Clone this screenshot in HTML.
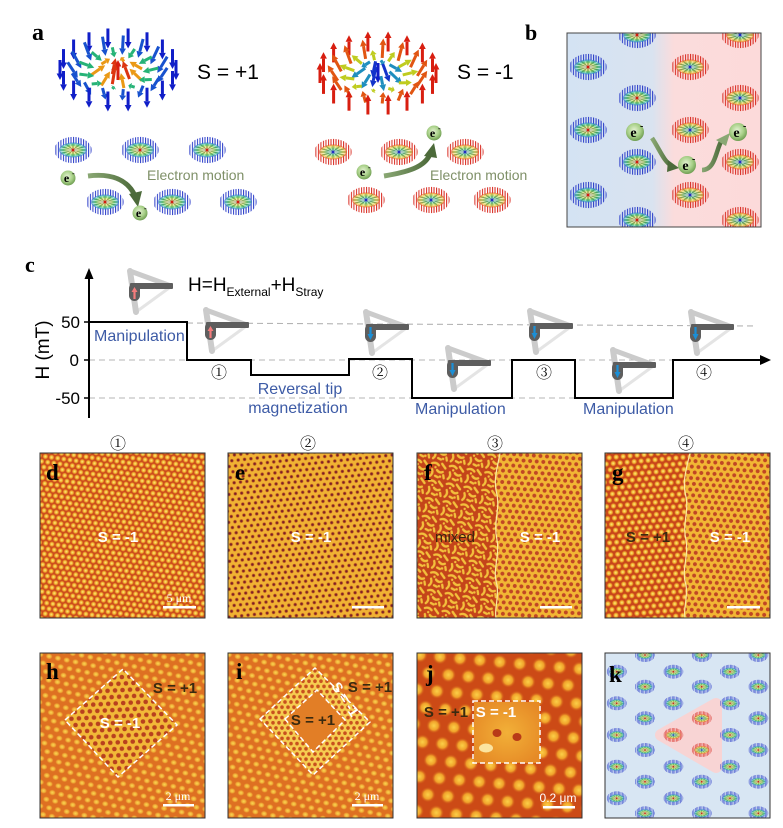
<!DOCTYPE html>
<html><head><meta charset="utf-8">
<style>
html,body{margin:0;padding:0;background:#fff;}
body{width:783px;height:828px;position:relative;overflow:hidden;}
svg{position:absolute;left:0;top:0;}
.sans{font-family:"Liberation Sans","DejaVu Sans",sans-serif;}
.serif{font-family:"Liberation Serif","DejaVu Serif",serif;}
.circ{font-family:"Noto Serif CJK SC","Noto Sans CJK SC","DejaVu Sans",serif;}
.fb{position:absolute;border-radius:50%;}
</style></head>
<body>
<noscript>
<div class="fb" style="left:55px;top:28px;width:126px;height:86px;background:radial-gradient(ellipse at center,#e03020 0%,#f0b020 20%,#50c040 45%,#30b0c0 70%,#2030d0 100%);opacity:.8"></div>
<div class="fb" style="left:317px;top:30px;width:124px;height:86px;background:radial-gradient(ellipse at center,#2040d0 0%,#30b0c0 20%,#50c040 45%,#f0b020 70%,#e02010 100%);opacity:.8"></div>
</noscript>
<svg width="783" height="828" viewBox="0 0 783 828" xmlns="http://www.w3.org/2000/svg">
<defs>
  <radialGradient id="rgP" cx="50%" cy="50%" r="50%">
    <stop offset="0" stop-color="#e0301c"/><stop offset="0.2" stop-color="#f0a020"/>
    <stop offset="0.45" stop-color="#c8d030"/><stop offset="0.65" stop-color="#40c040"/>
    <stop offset="0.85" stop-color="#30b0b0"/><stop offset="1" stop-color="#3070d0"/>
  </radialGradient>
  <radialGradient id="rgM" cx="50%" cy="50%" r="50%">
    <stop offset="0" stop-color="#2040d0"/><stop offset="0.2" stop-color="#30b0c0"/>
    <stop offset="0.45" stop-color="#50c040"/><stop offset="0.7" stop-color="#d8d030"/>
    <stop offset="0.88" stop-color="#f0a020"/><stop offset="1" stop-color="#e04020"/>
  </radialGradient>
  <pattern id="stB" width="2.7" height="6" patternUnits="userSpaceOnUse"><rect width="1.1" height="6" fill="#2a3cc8"/></pattern>
  <pattern id="stR" width="2.7" height="6" patternUnits="userSpaceOnUse"><rect width="1.1" height="6" fill="#d82a20"/></pattern>
  <symbol id="skp" viewBox="-21 -15 42 30">
    <path d="M-20,0 a20,14 0 1,0 40,0 a20,14 0 1,0 -40,0 Z M-14,0 a14,7 0 1,0 28,0 a14,7 0 1,0 -28,0 Z" fill-rule="evenodd" fill="url(#stB)"/>
    <ellipse rx="15" ry="8" fill="url(#rgP)" opacity="0.7"/>
    <path d="M0,0L14,0M0,0L12.1,3.5M0,0L7,6.1M0,0L0,7M0,0L-7,6.1M0,0L-12.1,3.5M0,0L-14,0M0,0L-12.1,-3.5M0,0L-7,-6.1M0,0L0,-7M0,0L7,-6.1M0,0L12.1,-3.5" stroke="#1f6a3a" stroke-width="0.8" opacity="0.55"/>
    <path d="M0,0L13.5,2M0,0L10,5M0,0L3.5,6.8M0,0L-3.5,6.8M0,0L-10,5M0,0L-13.5,2M0,0L-13.5,-2M0,0L-10,-5M0,0L-3.5,-6.8M0,0L3.5,-6.8M0,0L10,-5M0,0L13.5,-2" stroke="#fff" stroke-width="0.7" opacity="0.6"/>
    <circle r="1.6" fill="#d02010"/>
  </symbol>
  <symbol id="skm" viewBox="-21 -15 42 30">
    <path d="M-20,0 a20,14 0 1,0 40,0 a20,14 0 1,0 -40,0 Z M-14,0 a14,7 0 1,0 28,0 a14,7 0 1,0 -28,0 Z" fill-rule="evenodd" fill="url(#stR)"/>
    <ellipse rx="15" ry="8" fill="url(#rgM)" opacity="0.7"/>
    <path d="M0,0L14,0M0,0L12.1,3.5M0,0L7,6.1M0,0L0,7M0,0L-7,6.1M0,0L-12.1,3.5M0,0L-14,0M0,0L-12.1,-3.5M0,0L-7,-6.1M0,0L0,-7M0,0L7,-6.1M0,0L12.1,-3.5" stroke="#1f5a3a" stroke-width="0.8" opacity="0.55"/>
    <path d="M0,0L13.5,2M0,0L10,5M0,0L3.5,6.8M0,0L-3.5,6.8M0,0L-10,5M0,0L-13.5,2M0,0L-13.5,-2M0,0L-10,-5M0,0L-3.5,-6.8M0,0L3.5,-6.8M0,0L10,-5M0,0L13.5,-2" stroke="#fff" stroke-width="0.7" opacity="0.6"/>
    <circle r="1.6" fill="#2030c0"/>
  </symbol>
  <radialGradient id="eg" cx="45%" cy="40%" r="60%">
    <stop offset="0" stop-color="#e4f2d2"/><stop offset="0.6" stop-color="#a8d088"/><stop offset="1" stop-color="#6f9e52"/>
  </radialGradient>
  <linearGradient id="arG" x1="0" y1="0" x2="1" y2="0">
    <stop offset="0" stop-color="#8aa874"/><stop offset="1" stop-color="#4c6a3a"/>
  </linearGradient>
  <symbol id="tipR" viewBox="0 0 46 48">
    <path d="M9,44 L42,20" stroke="#e4e4e4" stroke-width="3"/>
    <path d="M3,3 L44,18" stroke="#cbcbcb" stroke-width="5" stroke-linecap="round"/>
    <path d="M3,3 L9,44" stroke="#cbcbcb" stroke-width="6" stroke-linecap="round"/>
    <rect x="3" y="15" width="43" height="6" rx="1" fill="#5e5e5e"/>
    <rect x="2" y="15" width="11" height="18" rx="5.5" fill="#5e5e5e"/>
    <path d="M7.5,31 V23" stroke="#f47c7c" stroke-width="2.2"/><path d="M4.5,24 L7.5,19 L10.5,24Z" fill="#f47c7c"/>
  </symbol>
  <symbol id="tipB" viewBox="0 0 46 48">
    <path d="M9,44 L42,20" stroke="#e4e4e4" stroke-width="3"/>
    <path d="M3,3 L44,18" stroke="#cbcbcb" stroke-width="5" stroke-linecap="round"/>
    <path d="M3,3 L9,44" stroke="#cbcbcb" stroke-width="6" stroke-linecap="round"/>
    <rect x="3" y="15" width="43" height="6" rx="1" fill="#5e5e5e"/>
    <rect x="2" y="15" width="11" height="18" rx="5.5" fill="#5e5e5e"/>
    <path d="M7.5,18 V26" stroke="#1b8fd6" stroke-width="2.2"/><path d="M4.5,25 L7.5,31 L10.5,25Z" fill="#1b8fd6"/>
  </symbol>
  <linearGradient id="bbg" x1="0" y1="0" x2="1" y2="0">
    <stop offset="0" stop-color="#d4e3f3"/><stop offset="0.44" stop-color="#d9e3f0"/>
    <stop offset="0.55" stop-color="#fbdcdc"/><stop offset="1" stop-color="#fcdada"/>
  </linearGradient>
  <radialGradient id="gy"><stop offset="0" stop-color="#fde888"/><stop offset="0.55" stop-color="#f4bc34"/><stop offset="1" stop-color="#dc6a20"/></radialGradient>
  <radialGradient id="gr"><stop offset="0" stop-color="#5e1a2c"/><stop offset="0.55" stop-color="#982c22"/><stop offset="1" stop-color="#eea42a"/></radialGradient>
  <radialGradient id="gy2"><stop offset="0" stop-color="#fad656"/><stop offset="0.6" stop-color="#f0ae36"/><stop offset="1" stop-color="#de7022"/></radialGradient>
  <radialGradient id="gy3"><stop offset="0" stop-color="#fbd048"/><stop offset="0.55" stop-color="#f0a22a"/><stop offset="1" stop-color="#c84414" stop-opacity="0"/></radialGradient>
  <pattern id="pd" width="6.2" height="10.74" patternUnits="userSpaceOnUse" patternTransform="rotate(8)">
    <rect width="6.2" height="10.74" fill="#cc4c1c"/>
    <circle cx="0" cy="0" r="2.6" fill="url(#gy)"/><circle cx="6.2" cy="0" r="2.6" fill="url(#gy)"/>
    <circle cx="0" cy="10.74" r="2.6" fill="url(#gy)"/><circle cx="6.2" cy="10.74" r="2.6" fill="url(#gy)"/>
    <circle cx="3.1" cy="5.37" r="2.6" fill="url(#gy)"/>
  </pattern>
  <pattern id="pe" width="6.4" height="11.09" patternUnits="userSpaceOnUse" patternTransform="rotate(-6)">
    <rect width="6.4" height="11.09" fill="#f0b234"/>
    <circle cx="0" cy="0" r="2.0" fill="url(#gr)"/><circle cx="6.4" cy="0" r="2.0" fill="url(#gr)"/>
    <circle cx="0" cy="11.09" r="2.0" fill="url(#gr)"/><circle cx="6.4" cy="11.09" r="2.0" fill="url(#gr)"/>
    <circle cx="3.2" cy="5.54" r="2.0" fill="url(#gr)"/>
  </pattern>
  <pattern id="pfL" width="18" height="18" patternUnits="userSpaceOnUse" patternTransform="rotate(10)">
    <rect width="18" height="18" fill="#c4441a"/>
    <g stroke="#f3c03c" stroke-width="2.3" stroke-linecap="round" fill="none">
      <path d="M2,3 Q6,1 9,4"/><path d="M12,2 L16,6"/><path d="M3,9 Q5,13 2,16"/>
      <path d="M8,9 Q11,12 14,10"/><path d="M15,13 L16,16"/><path d="M7,15 L10,16"/>
    </g>
    <circle cx="12" cy="15" r="1.3" fill="#f3c03c"/><circle cx="6" cy="6.5" r="1.2" fill="#f3c03c"/>
  </pattern>
  <pattern id="pfR" width="6.6" height="11.43" patternUnits="userSpaceOnUse" patternTransform="rotate(4)">
    <rect width="6.6" height="11.43" fill="#f2b634"/>
    <circle cx="0" cy="0" r="2" fill="#c04624"/><circle cx="6.6" cy="0" r="2" fill="#c04624"/>
    <circle cx="0" cy="11.43" r="2" fill="#c04624"/><circle cx="6.6" cy="11.43" r="2" fill="#c04624"/>
    <circle cx="3.3" cy="5.72" r="2" fill="#c04624"/>
  </pattern>
  <pattern id="pgL" width="7" height="12.12" patternUnits="userSpaceOnUse" patternTransform="rotate(-5)">
    <rect width="7" height="12.12" fill="#c8461a"/>
    <circle cx="0" cy="0" r="2.7" fill="url(#gy)"/><circle cx="7" cy="0" r="2.7" fill="url(#gy)"/>
    <circle cx="0" cy="12.12" r="2.7" fill="url(#gy)"/><circle cx="7" cy="12.12" r="2.7" fill="url(#gy)"/>
    <circle cx="3.5" cy="6.06" r="2.7" fill="url(#gy)"/>
  </pattern>
  <pattern id="ph" width="9" height="15.6" patternUnits="userSpaceOnUse" patternTransform="rotate(12)">
    <rect width="9" height="15.6" fill="#de7022"/>
    <ellipse cx="0" cy="0" rx="3.4" ry="2.9" fill="url(#gy2)"/><ellipse cx="9" cy="0" rx="3.4" ry="2.9" fill="url(#gy2)"/>
    <ellipse cx="0" cy="15.6" rx="3.4" ry="2.9" fill="url(#gy2)"/><ellipse cx="9" cy="15.6" rx="3.4" ry="2.9" fill="url(#gy2)"/>
    <ellipse cx="4.5" cy="7.8" rx="3.4" ry="2.9" fill="url(#gy2)"/>
  </pattern>
  <pattern id="phIn" width="7.5" height="13" patternUnits="userSpaceOnUse" patternTransform="rotate(-3)">
    <rect width="7.5" height="13" fill="#f2b838"/>
    <circle cx="0" cy="0" r="2.3" fill="#b8401e"/><circle cx="7.5" cy="0" r="2.3" fill="#b8401e"/>
    <circle cx="0" cy="13" r="2.3" fill="#b8401e"/><circle cx="7.5" cy="13" r="2.3" fill="#b8401e"/>
    <circle cx="3.75" cy="6.5" r="2.3" fill="#b8401e"/>
  </pattern>
  <pattern id="piB" width="6" height="10.4" patternUnits="userSpaceOnUse">
    <rect width="6" height="10.4" fill="#f6cc50"/>
    <circle cx="0" cy="0" r="1.8" fill="#c8501e"/><circle cx="6" cy="0" r="1.8" fill="#c8501e"/>
    <circle cx="0" cy="10.4" r="1.8" fill="#c8501e"/><circle cx="6" cy="10.4" r="1.8" fill="#c8501e"/>
    <circle cx="3" cy="5.2" r="1.8" fill="#c8501e"/>
  </pattern>
  <pattern id="pj" width="20" height="34.6" patternUnits="userSpaceOnUse" patternTransform="translate(420,655) rotate(5)">
    <rect width="20" height="34.6" fill="#cc4a16"/>
    <circle cx="0" cy="0" r="8" fill="url(#gy3)"/><circle cx="20" cy="0" r="8" fill="url(#gy3)"/>
    <circle cx="0" cy="34.6" r="8" fill="url(#gy3)"/><circle cx="20" cy="34.6" r="8" fill="url(#gy3)"/>
    <circle cx="10" cy="17.3" r="8" fill="url(#gy3)"/>
  </pattern>
  <radialGradient id="jin" cx="50%" cy="50%" r="60%"><stop offset="0" stop-color="#f2b038"/><stop offset="1" stop-color="#e68a26"/></radialGradient>
  <clipPath id="cb"><rect x="567" y="33" width="194" height="194"/></clipPath>
  <clipPath id="ck"><rect x="605" y="653" width="165" height="165"/></clipPath>
</defs>

<!-- ================= Panel a ================= -->
<text x="32" y="40" class="serif" font-size="24" font-weight="bold">a</text>
<g id="big"></g>
<text x="197" y="79" class="sans" font-size="21">S = +1</text>
<text x="457" y="79" class="sans" font-size="21">S = -1</text>

<use href="#skp" x="52" y="136" width="42" height="28"/>
<use href="#skp" x="119" y="136" width="42" height="28"/>
<use href="#skp" x="186" y="136" width="42" height="28"/>
<use href="#skp" x="84" y="188" width="42" height="28"/>
<use href="#skp" x="151" y="188" width="42" height="28"/>
<use href="#skp" x="217" y="188" width="42" height="28"/>

<use href="#skm" x="312" y="138" width="42" height="28"/>
<use href="#skm" x="378" y="138" width="42" height="28"/>
<use href="#skm" x="444" y="138" width="42" height="28"/>
<use href="#skm" x="345" y="186" width="42" height="28"/>
<use href="#skm" x="410" y="186" width="42" height="28"/>
<use href="#skm" x="471" y="186" width="42" height="28"/>

<path d="M88,176 C112,173 128,180 135,196" stroke="url(#arG)" stroke-width="5" fill="none"/>
<path d="M129,194 L138,207 L142,191 Z" fill="#4c6a3a"/>
<path d="M384,176 C408,172 425,167 430,154" stroke="url(#arG)" stroke-width="5" fill="none"/>
<path d="M424,156 L434,143 L437,158 Z" fill="#4c6a3a"/>

<text x="147" y="180" class="sans" font-size="14" fill="#7f9068">Electron motion</text>
<text x="430" y="180" class="sans" font-size="14" fill="#7f9068">Electron motion</text>

<g class="serif" font-weight="bold">
  <circle cx="68" cy="178" r="7.5" fill="url(#eg)"/><text x="66.5" y="182" font-size="12" text-anchor="middle">e</text><text x="72" y="176" font-size="8">-</text>
  <circle cx="140" cy="213" r="7.5" fill="url(#eg)"/><text x="138.5" y="217" font-size="12" text-anchor="middle">e</text><text x="144" y="211" font-size="8">-</text>
  <circle cx="364" cy="172" r="7.5" fill="url(#eg)"/><text x="362.5" y="176" font-size="12" text-anchor="middle">e</text><text x="368" y="170" font-size="8">-</text>
  <circle cx="434" cy="133" r="7.5" fill="url(#eg)"/><text x="432.5" y="137" font-size="12" text-anchor="middle">e</text><text x="438" y="131" font-size="8">-</text>
</g>

<!-- ================= Panel b ================= -->
<text x="525" y="40" class="serif" font-size="22" font-weight="bold">b</text>
<rect x="567" y="33" width="194" height="194" fill="url(#bbg)"/>
<g clip-path="url(#cb)">
  <use href="#skp" x="568" y="53" width="40" height="28"/>
  <use href="#skp" x="568" y="116" width="40" height="28"/>
  <use href="#skp" x="568" y="181" width="40" height="28"/>
  <use href="#skp" x="617" y="21" width="40" height="28"/>
  <use href="#skp" x="617" y="84" width="40" height="28"/>
  <use href="#skp" x="617" y="148" width="40" height="28"/>
  <use href="#skp" x="617" y="206" width="40" height="28"/>
  <use href="#skm" x="670" y="53" width="40" height="28"/>
  <use href="#skm" x="670" y="116" width="40" height="28"/>
  <use href="#skm" x="670" y="181" width="40" height="28"/>
  <use href="#skm" x="720" y="21" width="40" height="28"/>
  <use href="#skm" x="720" y="84" width="40" height="28"/>
  <use href="#skm" x="720" y="148" width="40" height="28"/>
  <use href="#skm" x="720" y="206" width="40" height="28"/>
</g>
<rect x="567" y="33" width="194" height="194" fill="none" stroke="#444" stroke-width="1"/>
<path d="M652,138 C660,150 664,162 672,166" stroke="url(#arG)" stroke-width="4.5" fill="none"/>
<path d="M668,160 L679,168 L667,172 Z" fill="#4c6a3a"/>
<path d="M702,170 C716,170 716,148 722,140" stroke="url(#arG)" stroke-width="4.5" fill="none"/>
<path d="M716,140 L730,133 L726,146 Z" fill="#8aa874"/>
<g class="serif" font-weight="bold">
  <circle cx="635" cy="132" r="9" fill="url(#eg)"/><text x="633.5" y="137" font-size="14" text-anchor="middle">e</text><text x="640" y="129" font-size="10">-</text>
  <circle cx="687" cy="165" r="9" fill="url(#eg)"/><text x="685.5" y="170" font-size="14" text-anchor="middle">e</text><text x="692" y="162" font-size="10">-</text>
  <circle cx="738" cy="132" r="9" fill="url(#eg)"/><text x="736.5" y="137" font-size="14" text-anchor="middle">e</text><text x="743" y="129" font-size="10">-</text>
</g>

<!-- ================= Panel c ================= -->
<text x="25" y="272" class="serif" font-size="22" font-weight="bold">c</text>
<g stroke="#b4b4b4" stroke-width="1.1" stroke-dasharray="6,4" fill="none">
  <path d="M187,323 L757,326"/>
  <path d="M89,360 L757,360"/>
  <path d="M89,398 L578,398"/>
</g>
<path d="M89,418 V276" stroke="#000" stroke-width="2"/>
<path d="M84.5,279 L89,268 L93.5,279 Z" fill="#000"/>
<path d="M84,322 H89 M84,360 H89 M84,398 H89" stroke="#000" stroke-width="1.5"/>
<path d="M89,322 H187 V360 H251 V375 H349 V359 H412 V398 H512 V360 H575 V398 H673 V360 H762" stroke="#000" stroke-width="2" fill="none"/>
<path d="M760,355 L771,360 L760,365 Z" fill="#000"/>
<g class="sans" font-size="17" text-anchor="end">
  <text x="80" y="328">50</text><text x="79" y="366">0</text><text x="80" y="404">-50</text>
</g>
<text transform="translate(49,350) rotate(-90)" class="sans" font-size="19" text-anchor="middle">H (mT)</text>
<text x="188" y="291" class="sans" font-size="19">H=H<tspan font-size="12" dy="5">External</tspan><tspan dy="-5">+H</tspan><tspan font-size="12" dy="5">Stray</tspan></text>

<use href="#tipR" x="127" y="268" width="46" height="48"/>
<use href="#tipR" x="203" y="307" width="46" height="48"/>
<use href="#tipB" x="363" y="309" width="46" height="48"/>
<use href="#tipB" x="445" y="345" width="46" height="48"/>
<use href="#tipB" x="527" y="308" width="46" height="48"/>
<use href="#tipB" x="610" y="347" width="46" height="48"/>
<use href="#tipB" x="688" y="309" width="46" height="48"/>

<g class="sans" font-size="16" fill="#3d5ba6">
  <text x="94" y="341">Manipulation</text>
  <text x="300" y="394" text-anchor="middle">Reversal tip</text>
  <text x="298" y="413" text-anchor="middle">magnetization</text>
  <text x="415" y="414">Manipulation</text>
  <text x="583" y="414">Manipulation</text>
</g>
<g class="circ" font-size="16" text-anchor="middle">
  <text x="219" y="378">①</text><text x="380" y="378">②</text><text x="544" y="378">③</text><text x="704" y="378">④</text>
  <text x="118" y="449">①</text><text x="308" y="449">②</text><text x="495" y="449">③</text><text x="686" y="449">④</text>
</g>

<!-- ================= d-g ================= -->
<rect x="40" y="453" width="165" height="165" fill="url(#pd)"/>
<rect x="40" y="453" width="165" height="165" fill="none" stroke="#333" stroke-width="1"/>
<text x="46" y="480" class="serif" font-size="23" font-weight="bold">d</text>
<text x="118" y="542" class="sans" font-size="15" font-weight="bold" fill="#fff" text-anchor="middle">S = -1</text>
<text x="179" y="602" class="serif" font-size="12" fill="#fff" text-anchor="middle">5 μm</text>
<rect x="163" y="606" width="33" height="2.5" fill="#fff"/>

<rect x="228" y="453" width="165" height="165" fill="url(#pe)"/>
<rect x="228" y="453" width="165" height="165" fill="none" stroke="#333" stroke-width="1"/>
<text x="235" y="480" class="serif" font-size="23" font-weight="bold">e</text>
<text x="311" y="542" class="sans" font-size="15" font-weight="bold" fill="#fff" text-anchor="middle">S = -1</text>
<rect x="352" y="606" width="32" height="2.5" fill="#fff"/>

<rect x="417" y="453" width="165" height="165" fill="url(#pfR)"/>
<path d="M417,453 H500 C497,470 493,480 497,495 C500,510 493,522 497,540 C500,556 492,570 497,585 C499,598 494,610 496,618 H417 Z" fill="url(#pfL)"/>
<path d="M500,453 C497,470 493,480 497,495 C500,510 493,522 497,540 C500,556 492,570 497,585 C499,598 494,610 496,618" stroke="#fbe7a4" stroke-width="1.2" fill="none"/>
<rect x="417" y="453" width="165" height="165" fill="none" stroke="#333" stroke-width="1"/>
<text x="424" y="480" class="serif" font-size="23" font-weight="bold">f</text>
<text x="455" y="542" class="sans" font-size="15" fill="#3a2410" text-anchor="middle">mixed</text>
<text x="540" y="542" class="sans" font-size="15" font-weight="bold" fill="#fff" text-anchor="middle">S = -1</text>
<rect x="540" y="606" width="32" height="2.5" fill="#fff"/>

<rect x="605" y="453" width="165" height="165" fill="url(#pfR)"/>
<path d="M605,453 H690 C686,470 682,482 686,497 C689,512 682,524 686,540 C689,556 681,570 686,585 C688,598 683,610 685,618 H605 Z" fill="url(#pgL)"/>
<path d="M690,453 C686,470 682,482 686,497 C689,512 682,524 686,540 C689,556 681,570 686,585 C688,598 683,610 685,618" stroke="#fbe7a4" stroke-width="1.2" fill="none"/>
<rect x="605" y="453" width="165" height="165" fill="none" stroke="#333" stroke-width="1"/>
<text x="612" y="480" class="serif" font-size="23" font-weight="bold">g</text>
<text x="648" y="542" class="sans" font-size="15" font-weight="bold" fill="#3a2a10" text-anchor="middle">S = +1</text>
<text x="730" y="542" class="sans" font-size="15" font-weight="bold" fill="#fff" text-anchor="middle">S = -1</text>
<rect x="727" y="606" width="33" height="2.5" fill="#fff"/>

<!-- ================= h-k ================= -->
<rect x="40" y="653" width="165" height="165" fill="url(#ph)"/>
<path d="M65,720 L123,669 L177,725 L118,777 Z" fill="url(#phIn)"/>
<path d="M65,720 L123,669 L177,725 L118,777 Z" fill="none" stroke="#fff" stroke-width="1.5" stroke-dasharray="5,3"/>
<rect x="40" y="653" width="165" height="165" fill="none" stroke="#333" stroke-width="1"/>
<text x="46" y="679" class="serif" font-size="23" font-weight="bold">h</text>
<text x="120" y="728" class="sans" font-size="15" font-weight="bold" fill="#fff" text-anchor="middle">S = -1</text>
<text x="175" y="693" class="sans" font-size="15" font-weight="bold" fill="#3a2a10" text-anchor="middle">S = +1</text>
<text x="178" y="800" class="serif" font-size="12" fill="#fff" text-anchor="middle">2 μm</text>
<rect x="163" y="804" width="31" height="2.5" fill="#fff"/>

<rect x="228" y="653" width="165" height="165" fill="url(#ph)"/>
<path d="M260,719 L315,668 L370,722 L313,775 Z" fill="url(#piB)"/>
<path d="M285,719 L317,690 L345,720 L313,752 Z" fill="#e27e26"/>
<path d="M260,719 L315,668 L370,722 L313,775 Z M285,719 L317,690 L345,720 L313,752 Z" fill="none" stroke="#fff" stroke-width="1.5" stroke-dasharray="5,3"/>
<rect x="228" y="653" width="165" height="165" fill="none" stroke="#333" stroke-width="1"/>
<text x="236" y="679" class="serif" font-size="23" font-weight="bold">i</text>
<text x="313" y="725" class="sans" font-size="15" font-weight="bold" fill="#3a2a10" text-anchor="middle">S = +1</text>
<text x="370" y="692" class="sans" font-size="15" font-weight="bold" fill="#3a2a10" text-anchor="middle">S = +1</text>
<text transform="translate(331,686) rotate(57)" class="sans" font-size="14" font-weight="bold" fill="#fff">S = -1</text>
<text x="367" y="800" class="serif" font-size="12" fill="#fff" text-anchor="middle">2 μm</text>
<rect x="352" y="804" width="31" height="2.5" fill="#fff"/>

<rect x="417" y="653" width="165" height="165" fill="url(#pj)"/>
<rect x="474" y="702" width="66" height="61" fill="url(#jin)"/>
<ellipse cx="497" cy="733" rx="4.5" ry="4" fill="#b83a18"/>
<ellipse cx="517" cy="737" rx="4.5" ry="4" fill="#b83a18"/>
<ellipse cx="486" cy="748" rx="7" ry="4.5" fill="#fbe4a0"/>
<rect x="473" y="701" width="67" height="62" fill="none" stroke="#fff" stroke-width="1.5" stroke-dasharray="5,3"/>
<rect x="417" y="653" width="165" height="165" fill="none" stroke="#333" stroke-width="1"/>
<text x="426" y="681" class="serif" font-size="23" font-weight="bold">j</text>
<text x="446" y="717" class="sans" font-size="15" font-weight="bold" fill="#3a2a10" text-anchor="middle">S = +1</text>
<text x="496" y="717" class="sans" font-size="15" font-weight="bold" fill="#fff" text-anchor="middle">S = -1</text>
<text x="558" y="802" class="sans" font-size="12" fill="#fff" text-anchor="middle">0.2 μm</text>
<rect x="543" y="806" width="32" height="2.5" fill="#fff"/>

<rect x="605" y="653" width="165" height="165" fill="#d8e6f3"/>
<g clip-path="url(#ck)">
  <path d="M661,735 L716,704 L716,767 Z" fill="#f8d4d4" stroke="#f8d4d4" stroke-width="12" stroke-linejoin="round"/>
  <use href="#skp" x="605.7" y="664.2" width="22" height="15"/>
  <use href="#skp" x="605.7" y="695.8" width="22" height="15"/>
  <use href="#skp" x="605.7" y="727.5" width="22" height="15"/>
  <use href="#skp" x="605.7" y="759.2" width="22" height="15"/>
  <use href="#skp" x="605.7" y="790.8" width="22" height="15"/>
  <use href="#skp" x="662.3" y="664.2" width="22" height="15"/>
  <use href="#skp" x="662.3" y="695.8" width="22" height="15"/>
  <use href="#skm" x="662.3" y="727.5" width="22" height="15"/>
  <use href="#skp" x="662.3" y="759.2" width="22" height="15"/>
  <use href="#skp" x="662.3" y="790.8" width="22" height="15"/>
  <use href="#skp" x="719" y="664.2" width="22" height="15"/>
  <use href="#skp" x="719" y="695.8" width="22" height="15"/>
  <use href="#skp" x="719" y="727.5" width="22" height="15"/>
  <use href="#skp" x="719" y="759.2" width="22" height="15"/>
  <use href="#skp" x="719" y="790.8" width="22" height="15"/>
  <use href="#skp" x="634" y="647.5" width="22" height="15"/>
  <use href="#skp" x="634" y="679.2" width="22" height="15"/>
  <use href="#skp" x="634" y="710.8" width="22" height="15"/>
  <use href="#skp" x="634" y="742.5" width="22" height="15"/>
  <use href="#skp" x="634" y="774.2" width="22" height="15"/>
  <use href="#skp" x="634" y="805.8" width="22" height="15"/>
  <use href="#skp" x="690.7" y="647.5" width="22" height="15"/>
  <use href="#skp" x="690.7" y="679.2" width="22" height="15"/>
  <use href="#skm" x="690.7" y="710.8" width="22" height="15"/>
  <use href="#skm" x="690.7" y="742.5" width="22" height="15"/>
  <use href="#skp" x="690.7" y="774.2" width="22" height="15"/>
  <use href="#skp" x="690.7" y="805.8" width="22" height="15"/>
  <use href="#skp" x="747.3" y="647.5" width="22" height="15"/>
  <use href="#skp" x="747.3" y="679.2" width="22" height="15"/>
  <use href="#skp" x="747.3" y="710.8" width="22" height="15"/>
  <use href="#skp" x="747.3" y="742.5" width="22" height="15"/>
  <use href="#skp" x="747.3" y="774.2" width="22" height="15"/>
  <use href="#skp" x="747.3" y="805.8" width="22" height="15"/>
</g>
<rect x="605" y="653" width="165" height="165" fill="none" stroke="#333" stroke-width="1"/>
<text x="609" y="682" class="serif" font-size="23" font-weight="bold">k</text>
</svg>

<script>
(function(){
  var ns='http://www.w3.org/2000/svg';
  var g=document.getElementById('big');
  var stops=[[0,[216,30,16]],[0.25,[236,150,20]],[0.4,[200,205,30]],[0.5,[50,185,50]],[0.65,[30,175,160]],[0.8,[30,120,210]],[1,[16,30,200]]];
  function col(t){
    for(var i=1;i<stops.length;i++){
      if(t<=stops[i][0]+1e-9){
        var a=stops[i-1],b=stops[i],f=(t-a[0])/(b[0]-a[0]);
        return 'rgb('+a[1].map(function(v,k){return Math.round(v+(b[1][k]-v)*f);}).join(',')+')';
      }
    }
    return 'rgb(16,30,200)';
  }
  function el(n,attrs){var e=document.createElementNS(ns,n);for(var k in attrs)e.setAttribute(k,attrs[k]);return e;}
  function sky(cx,cy,sign){
    var rings=[[1,18],[0.78,15],[0.56,11],[0.34,7],[0.14,3],[0,1]];
    var items=[];
    rings.forEach(function(rn,ri){
      var r=rn[0],n=rn[1];
      for(var i=0;i<n;i++){
        var phi=2*Math.PI*(i+0.5*(ri%2))/n, th=Math.PI*r;
        var mz=sign>0?Math.cos(th):-Math.cos(th);
        var X=cx+58*r*Math.cos(phi), Y=cy+32*r*Math.sin(phi);
        var L=21, ip=sign>0?-1:1;
        var dx=L*0.75*Math.sin(th)*Math.cos(phi)*ip;
        var dy=-L*mz*0.95+L*0.3*Math.sin(th)*Math.sin(phi)*ip;
        items.push({X:X,Y:Y,dx:dx,dy:dy,t:(1-mz)/2});
      }
    });
    items.sort(function(a,b){return a.Y-b.Y;});
    items.forEach(function(it){
      var len=Math.sqrt(it.dx*it.dx+it.dy*it.dy); if(len<2)return;
      var ux=it.dx/len, uy=it.dy/len;
      var tx=it.X-it.dx/2, ty=it.Y-it.dy/2, hx=it.X+it.dx/2, hy=it.Y+it.dy/2;
      var h=Math.min(6.5,len*0.45), bx=hx-ux*h, by=hy-uy*h, px=-uy*3.4, py=ux*3.4;
      var c=col(it.t);
      g.appendChild(el('line',{x1:tx.toFixed(1),y1:ty.toFixed(1),x2:bx.toFixed(1),y2:by.toFixed(1),stroke:c,'stroke-width':'3'}));
      g.appendChild(el('polygon',{points:hx.toFixed(1)+','+hy.toFixed(1)+' '+(bx+px).toFixed(1)+','+(by+py).toFixed(1)+' '+(bx-px).toFixed(1)+','+(by-py).toFixed(1),fill:c}));
    });
  }
  sky(118,70,1);
  sky(378,73,-1);
})();
</script>
</body></html>
